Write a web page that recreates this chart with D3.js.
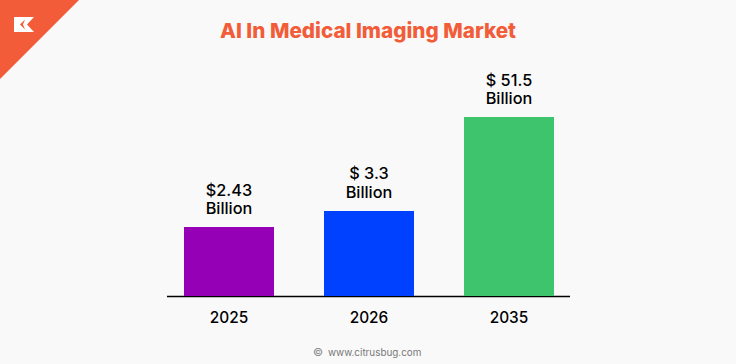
<!DOCTYPE html>
<html><head><meta charset="utf-8">
<script src="https://cdn.jsdelivr.net/npm/d3@7/dist/d3.min.js"></script>
<style>html,body{margin:0;padding:0;background:#f9f9f9}svg{display:block}text{font-family:Inter,"Noto Sans",sans-serif}</style>
</head><body><div id="c"></div>
<script>
const titleText = "AI In Medical Imaging Market";
const categories = ["2025","2026","2035"];
const labelLines = [["$2.43","Billion"],["$ 3.3","Billion"],["$ 51.5","Billion"]];
// The source bars are not to scale with their labels: these are the heights as drawn, in the top bar's units
const drawnValues = [19.85,24.46,51.5];
const colors = ["#9500b6","#0040ff","#3ec46d"];
const footer = "www.citrusbug.com";
const W=736,H=364;
const svg=d3.select("#c").append("svg").attr("width",W).attr("height",H);
svg.append("rect").attr("width",W).attr("height",H).attr("fill","#f9f9f9");
// corner logo
svg.append("path").attr("d",d3.line()([[0,0],[79,0],[0,79]])+"Z").attr("fill","#f25c38");
svg.append("path").attr("d",d3.line()([[14,17],[34,17],[27,24.5],[34,32],[14,32]])+"Z").attr("fill","#fff");
svg.append("path").attr("d",d3.line()([[25,19.5],[20,24.5],[25,29.5],[23,24.5]])+"Z").attr("fill","#f25c38");
svg.append("text").attr("x",368).attr("y",38).attr("text-anchor","middle").attr("font-size",20.7).attr("font-weight",800).attr("fill","#f25c38").text(titleText);
const x=d3.scaleBand().domain(categories).range([159,579]).paddingInner(0.3572).paddingOuter(0.1786);
const y=d3.scaleLinear().domain([0,51.5]).range([296,117]);
const xa=svg.append("g").attr("transform","translate(0,296)").call(d3.axisBottom(x).tickSize(0).tickPadding(16));
xa.select(".domain").attr("d",d3.line()([[167,0.5],[570,0.5]])).attr("stroke","#000").attr("stroke-width",1.4);
xa.selectAll("text").attr("font-size",15.4).attr("font-weight",500).attr("fill","#000").style("font-family",'Inter,"Noto Sans",sans-serif');
svg.selectAll("rect.bar").data(categories).join("rect").attr("class","bar")
 .attr("x",d=>x(d)).attr("width",x.bandwidth())
 .attr("y",(d,i)=>y(drawnValues[i])).attr("height",(d,i)=>y(0)-y(drawnValues[i]))
 .attr("fill",(d,i)=>colors[i]);
categories.forEach((c,i)=>{
 labelLines[i].forEach((t,j)=>{
  svg.append("text").attr("x",x(c)+x.bandwidth()/2).attr("y",y(drawnValues[i])-31.5+j*18.5)
   .attr("text-anchor","middle").attr("font-size",16.3).attr("font-weight",500).attr("fill","#000").text(t);
 });
});
svg.append("text").attr("x",313).attr("y",356).attr("font-size",11).attr("fill","#888").text("©");
svg.append("text").attr("x",328).attr("y",356).attr("font-size",9.9).attr("fill","#777").text(footer);
</script></body></html>
